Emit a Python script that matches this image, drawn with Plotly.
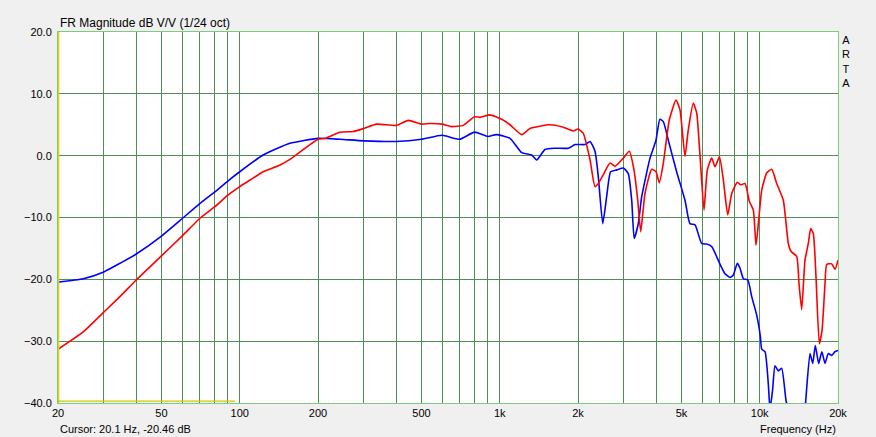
import plotly.graph_objects as go

# ---- data ----
blue_freq = [20, 25, 30, 35, 40, 50, 60, 70, 80, 90, 100, 123, 156, 200, 243, 300, 400, 500,
             600, 700, 800, 900, 970, 1095, 1215, 1327, 1387, 1493, 1631, 1836, 1950, 2128,
             2225, 2325, 2394, 2490, 2578, 2670, 2820, 2988, 3122, 3218, 3290, 3410, 3517,
             3784, 3990, 4130, 4258, 4450, 4790, 5158, 5390, 5640, 5980, 6250, 6537, 6840,
             7060, 7354, 7686, 7914, 8200, 8400, 8650, 9000, 9314, 9736, 10060, 10176, 10478,
             10788, 10952, 11200, 11448, 11788, 12148, 12620, 12880, 13500, 14500, 14932,
             15606, 15990, 16360, 16850, 17330, 17826, 18356, 18916, 19476, 20000]
blue_db = [-20.46, -19.9, -18.8, -17.3, -15.9, -13.0, -10.2, -7.8, -5.9, -4.1, -2.6, 0.1, 2.0,
           2.8, 2.65, 2.4, 2.3, 2.65, 3.3, 2.65, 3.8, 3.1, 3.4, 2.8, 0.5, 0.1, -0.7, 1.0, 1.2,
           1.2, 1.8, 1.8, 2.3, 0.7, -3.4, -11.0, -6.6, -2.6, -2.3, -2.0, -2.9, -7.2, -13.4,
           -11.0, -6.6, -0.4, 2.5, 5.9, 5.5, 2.5, -2.6, -7.2, -11.0, -11.2, -14.2, -14.3,
           -14.7, -16.4, -17.7, -19.1, -19.7, -19.3, -17.4, -18.2, -19.9, -20.1, -22.8, -25.8,
           -29.3, -31.3, -31.7, -36.9, -41.0, -38.0, -34.0, -34.8, -34.4, -39.6, -41.0, -45.0,
           -45.0, -41.0, -32.0, -33.6, -30.7, -33.6, -31.7, -33.6, -32.0, -32.3, -31.7, -31.5]

red_freq = [20, 25, 30, 35, 40, 50, 60, 70, 80, 90, 100, 110, 123, 143, 156, 200, 213, 243, 273,
            300, 336, 400, 445, 500, 539, 600, 653, 724, 800, 840, 917, 1017, 1095, 1215, 1307,
            1560, 1756, 1918, 2000, 2096, 2225, 2325, 2394, 2500, 2656, 2776, 2988, 3150, 3284,
            3394, 3486, 3620, 3840, 3990, 4108, 4258, 4490, 4764, 4936, 5158, 5312, 5552, 5722,
            5892, 6104, 6287, 6537, 6730, 7000, 7244, 7532, 7804, 8200, 8452, 8778, 9120, 9448,
            9676, 9910, 10176, 10636, 11118, 11622, 12322, 12880, 13200, 13872, 14158, 14500,
            14932, 15376, 15704, 16070, 16460, 16948, 17360, 17826, 18096, 18916, 19476, 20000]
red_db = [-31.3, -28.5, -25.3, -22.6, -20.1, -16.2, -13.0, -10.2, -8.3, -6.4, -5.0, -3.9, -2.6,
          -1.5, -0.6, 2.65, 2.8, 3.8, 3.9, 4.4, 5.1, 4.9, 5.7, 5.1, 5.2, 5.1, 4.7, 4.9, 6.3, 6.2,
          6.6, 5.9, 5.0, 3.4, 4.4, 5.0, 4.6, 4.0, 4.3, 3.6, -0.7, -5.0, -4.5, -3.1, -1.2, -1.7,
          -0.4, 0.7, -2.3, -7.2, -12.3, -6.1, -2.2, -2.6, -4.4, -1.2, 5.8, 9.0, 7.4, -0.1, 4.2,
          8.5, 6.9, 0.0, -8.8, -2.3, -0.4, -1.8, -0.2, -3.9, -9.6, -6.1, -4.3, -4.7, -4.5, -7.4,
          -8.8, -14.5, -10.4, -5.6, -2.8, -2.2, -4.5, -7.2, -14.2, -15.5, -16.3, -20.7, -24.9,
          -16.9, -14.2, -11.8, -12.6, -19.6, -30.4, -28.3, -20.7, -17.6, -17.5, -18.4, -16.9]

grid_freqs = [20, 30, 40, 50, 60, 70, 80, 90, 100, 200, 300, 400, 500, 600, 700, 800, 900,
              1000, 2000, 3000, 4000, 5000, 6000, 7000, 8000, 9000, 10000, 20000]
labelled = {20: "20", 50: "50", 100: "100", 200: "200", 500: "500", 1000: "1k", 2000: "2k",
            5000: "5k", 10000: "10k", 20000: "20k"}
x_ticktext = [labelled.get(f, "") for f in grid_freqs]
y_ticks = [-40, -30, -20, -10, 0, 10, 20]

cursor_freq = 20.1
cursor_db = -20.46

title_text = "FR Magnitude dB V/V (1/24 oct)"
cursor_text = f"Cursor: {cursor_freq} Hz, {cursor_db} dB"

FONT = "Liberation Sans, Arial, sans-serif"
GRID = "#4f8f55"

fig = go.Figure()
fig.add_trace(go.Scatter(x=blue_freq, y=blue_db, mode="lines",
                         line=dict(color="#0000ff", width=1.6, shape="spline", smoothing=0.5),
                         hoverinfo="skip", showlegend=False))
fig.add_trace(go.Scatter(x=red_freq, y=red_db, mode="lines",
                         line=dict(color="#ff0000", width=1.6, shape="spline", smoothing=0.5),
                         hoverinfo="skip", showlegend=False))

# cursor marks (yellow)
fig.add_shape(type="line", xref="x", yref="y", x0=cursor_freq, x1=cursor_freq, y0=-40, y1=20,
              line=dict(color="#d8d800", width=1.5))
fig.add_shape(type="line", xref="x", yref="y", x0=20, x1=96, y0=-39.7, y1=-39.7,
              line=dict(color="#c8c800", width=1.2))

fig.update_layout(
    width=876, height=437,
    margin=dict(l=58, r=38, t=32, b=34),
    paper_bgcolor="#f0f0f0", plot_bgcolor="#ffffff",
    font=dict(family=FONT, size=11, color="#000000"),
    xaxis=dict(type="log", range=[1.30103, 4.30103], tickvals=grid_freqs, ticktext=x_ticktext,
               showgrid=True, gridcolor=GRID, gridwidth=1, zeroline=False,
               showline=True, linecolor="#7ccc7c", linewidth=1, mirror=True,
               ticks="", tickfont=dict(size=11, family=FONT)),
    yaxis=dict(range=[-40, 20], tickvals=y_ticks, tickformat=".1f",
               showgrid=True, gridcolor=GRID, gridwidth=1, zeroline=False,
               showline=True, linecolor="#7ccc7c", linewidth=1, mirror=True,
               ticks="", ticklabelstandoff=3, tickfont=dict(size=11, family=FONT)),
    annotations=[
        dict(text=title_text, xref="paper", yref="paper", x=0, y=1, xanchor="left",
             yanchor="bottom", yshift=0, showarrow=False, font=dict(size=12, family=FONT)),
        dict(text=cursor_text, xref="paper", yref="paper", x=0, y=0, xanchor="left",
             yanchor="top", yshift=-18, showarrow=False, font=dict(size=11, family=FONT)),
        dict(text="Frequency (Hz)", xref="paper", yref="paper", x=1, y=0, xanchor="right",
             yanchor="top", yshift=-18, showarrow=False, font=dict(size=11, family=FONT)),
        dict(text="A<br>R<br>T<br>A", xref="paper", yref="paper", x=1, y=1, xanchor="left",
             yanchor="top", xshift=2, showarrow=False, align="center",
             font=dict(size=11, family=FONT)),
    ],
)

fig.write_html("out.html", config={"displayModeBar": False},
               post_script="document.body.style.margin='0';"
                           "document.body.style.background='#f0f0f0';")
